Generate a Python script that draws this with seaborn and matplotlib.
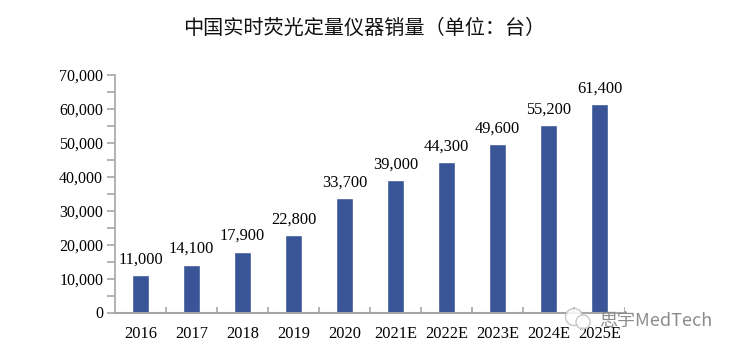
import seaborn as sns
import matplotlib.pyplot as plt
import pandas as pd
from matplotlib.patches import Circle

years = ['2016', '2017', '2018', '2019', '2020', '2021E', '2022E', '2023E', '2024E', '2025E']
sales = [11000, 14100, 17900, 22800, 33700, 39000, 44300, 49600, 55200, 61400]
y_ticks = [0, 10000, 20000, 30000, 40000, 50000, 60000, 70000]
title = '中国实时荧光定量仪器销量（单位：台）'
watermark = '思宇MedTech'

sns.set_theme(style='white')
plt.rcParams['font.family'] = ['Liberation Serif', 'Noto Sans CJK SC']

df = pd.DataFrame({'year': years, 'sales': sales})

fig = plt.figure(figsize=(7.35, 3.53), dpi=100)
ax = fig.add_axes([115 / 735, 1 - 312.5 / 353, 510 / 735, 237.5 / 353])
sns.barplot(data=df, x='year', y='sales', color='#3A5597', saturation=1, width=0.32, ax=ax)

ax.set_xlim(-0.5, 9.5)
ax.set_ylim(0, 70000)
ax.set_xlabel('')
ax.set_ylabel('')
ax.set_yticks(y_ticks)
ax.set_yticklabels([f'{v:,}' for v in y_ticks], fontsize=11.5, color='black')
ax.set_yticks([v + 5000 for v in y_ticks[:-1]], minor=True)
ax.tick_params(axis='y', which='both', left=True, length=6, width=1.2, color='#A6A6A6', pad=2.5)
ax.tick_params(axis='x', bottom=False, labelsize=11.8, labelcolor='black', pad=4)

sns.despine(ax=ax)
ax.spines['left'].set_color('#A6A6A6')
ax.spines['bottom'].set_color('#A6A6A6')
ax.spines['left'].set_linewidth(1.2)
ax.spines['bottom'].set_linewidth(1.5)

# category separators pointing up from the axis
for i in range(1, 11):
    ax.plot([i - 0.5, i - 0.5], [0, 1500], color='#A6A6A6', lw=1.2, solid_capstyle='butt')

for i, v in enumerate(sales):
    ax.annotate(f'{v:,}', (i, v), xytext=(0, 5.5), textcoords='offset points', ha='center', va='bottom', fontsize=11.8, color='black')

fig.text(364 / 735, 1 - 28 / 353, title, ha='center', va='center', fontsize=14.5, family='Noto Sans CJK SC', color='#111111')

# watermark bubbles, in pixels from the top left
for cx, cy, r in [(574, 317, 8.5), (583, 322, 7)]:
    fig.add_artist(Circle((cx, 353 - cy), r, transform=None, facecolor='white', edgecolor='#BDBDBD', lw=1, alpha=0.85))
fig.text(656 / 735, 1 - 321 / 353, watermark, ha='center', va='center', fontsize=13, family='Noto Sans CJK SC', color='#8C8C8C')

fig.savefig('out.png', dpi=100)
